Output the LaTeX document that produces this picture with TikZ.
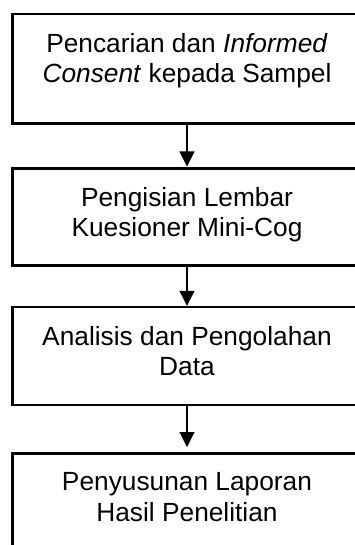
\documentclass[tikz,border=0pt]{standalone}
\usepackage{fontspec}
\setmainfont{Liberation Sans}
\usetikzlibrary{arrows.meta}
\begin{document}
\begin{tikzpicture}[x=1pt,y=-1pt,
  stagebox/.style={draw=black, line width=2.2pt, rectangle, inner sep=0pt,
    outer sep=0pt, minimum width=349pt, anchor=north west},
  stagetext/.style={anchor=north, inner sep=0pt, align=center,
    font=\fontsize{26.3}{30.2}\selectfont},
  flow/.style={draw=black, line width=1.1pt,
    -{Triangle[width=15pt,length=15pt]}}]
  \useasboundingbox (0,0) rectangle (355,545);
  \clip (0,0) rectangle (355,545);

  % process stages
  \node[stagebox, minimum height=109.5pt] (b1) at (12.5,14) {};
  \node[stagebox, minimum height=97pt]    (b2) at (12.5,168.5) {};
  \node[stagebox, minimum height=98pt]    (b3) at (12.5,307) {};
  \node[stagebox, minimum height=120pt]   (b4) at (12.5,453.5) {};

  % stage captions, set near the top of each box
  \node[stagetext] (t1) at (187,33)
    {Pencarian dan \textit{Informed}\\\textit{Consent} kepada Sampel};
  \node[stagetext] (t2) at (187,187.5)
    {Pengisian Lembar\\Kuesioner Mini-Cog};
  \node[stagetext] (t3) at (187,326)
    {Analisis dan Pengolahan\\Data};
  \node[stagetext] (t4) at (187,472.5)
    {Penyusunan Laporan\\Hasil Penelitian};

  % connectors between stages
  \draw[flow, shorten >=2pt] (b1.south -| t1.south) -- (b2.north -| t1.south);
  \draw[flow, shorten >=1.2pt] (b2.south -| t1.south) -- (b3.north -| t1.south);
  \draw[flow, shorten >=6.5pt] (b3.south -| t1.south) -- (b4.north -| t1.south);
\end{tikzpicture}
\end{document}
